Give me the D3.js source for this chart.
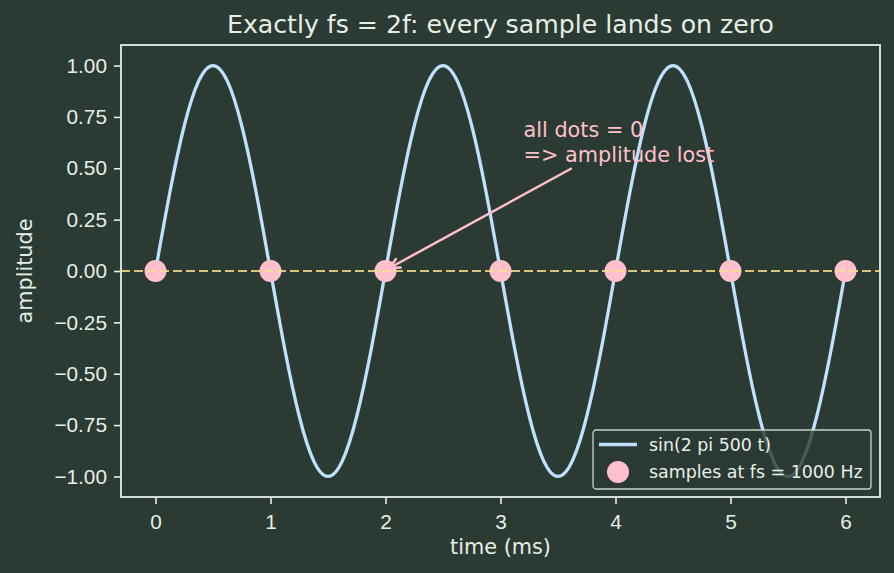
<!DOCTYPE html>
<html>
<head>
<meta charset="utf-8">
<script src="https://cdn.jsdelivr.net/npm/d3@7"></script>
<style>
  html, body { margin: 0; padding: 0; background: #2b3a33; }
  svg { display: block; font-family: "DejaVu Sans", sans-serif; }
</style>
</head>
<body>
<svg id="chart" width="894" height="573"></svg>
<script>
// time in ms, one point every 1/8 ms
var timeMs = [0, 0.125, 0.25, 0.375, 0.5, 0.625, 0.75, 0.875,
              1, 1.125, 1.25, 1.375, 1.5, 1.625, 1.75, 1.875,
              2, 2.125, 2.25, 2.375, 2.5, 2.625, 2.75, 2.875,
              3, 3.125, 3.25, 3.375, 3.5, 3.625, 3.75, 3.875,
              4, 4.125, 4.25, 4.375, 4.5, 4.625, 4.75, 4.875,
              5, 5.125, 5.25, 5.375, 5.5, 5.625, 5.75, 5.875, 6];
// sine amplitude (period 2 ms)
var sineValues = [0, 0.383, 0.707, 0.924, 1, 0.924, 0.707, 0.383,
                  0, -0.383, -0.707, -0.924, -1, -0.924, -0.707, -0.383,
                  0, 0.383, 0.707, 0.924, 1, 0.924, 0.707, 0.383,
                  0, -0.383, -0.707, -0.924, -1, -0.924, -0.707, -0.383,
                  0, 0.383, 0.707, 0.924, 1, 0.924, 0.707, 0.383,
                  0, -0.383, -0.707, -0.924, -1, -0.924, -0.707, -0.383, 0];
// samples at fs = 1000 Hz
var sampleTimes = [0, 1, 2, 3, 4, 5, 6];
var sampleValues = [0, 0, 0, 0, 0, 0, 0];
var xTicks = [0, 1, 2, 3, 4, 5, 6];
var yTicks = [-1, -0.75, -0.5, -0.25, 0, 0.25, 0.5, 0.75, 1];

var bg = "#2b3a33", fg = "#e6efe6";

var svg = d3.select("#chart"),
    margin = {top: 45, right: 14, bottom: 76, left: 121},
    width = svg.attr("width") - margin.left - margin.right,
    height = svg.attr("height") - margin.top - margin.bottom;

svg.append("rect").attr("width", 894).attr("height", 573).attr("fill", bg);

var x = d3.scaleLinear().domain([-0.3, 6.3]).range([0, width]),
    y = d3.scaleLinear().domain([-1.1, 1.1]).range([height, 0]);

var g = svg.append("g").attr("transform", "translate(" + margin.left + "," + margin.top + ")");

// axes
var xAxis = g.append("g")
    .attr("transform", "translate(0," + height + ")")
    .call(d3.axisBottom(x).tickValues(xTicks).tickFormat(d3.format("d")).tickSize(7).tickPadding(6));
var yAxis = g.append("g")
    .call(d3.axisLeft(y).tickValues(yTicks).tickFormat(function(d) {
        return d3.format(".2f")(d).replace("-", "\u2212"); }).tickSize(7).tickPadding(7));
[xAxis, yAxis].forEach(function(a) {
  a.select(".domain").remove();
  a.selectAll("line").attr("stroke", fg).attr("stroke-width", 1.6);
  a.selectAll("text").attr("fill", fg).style("font-size", "20.8px");
});
xAxis.selectAll("text").attr("dy", "0.92em");

// sine curve
var line = d3.line()
    .x(function(d, i) { return x(timeMs[i]); })
    .y(function(d) { return y(d); })
    .curve(d3.curveNatural);

g.append("path")
    .datum(sineValues)
    .attr("d", line)
    .attr("fill", "none")
    .attr("stroke", "#bfe1ff")
    .attr("stroke-width", 3.3);

// sample dots
g.selectAll(".sample")
    .data(sampleTimes)
   .enter().append("circle")
    .attr("class", "sample")
    .attr("cx", function(d) { return x(d); })
    .attr("cy", function(d, i) { return y(sampleValues[i]); })
    .attr("r", 11)
    .attr("fill", "#ffc0cb");

// zero line
g.append("line")
    .attr("x1", 0).attr("x2", width)
    .attr("y1", y(0)).attr("y2", y(0))
    .attr("stroke", "#f7e08f")
    .attr("stroke-opacity", 0.85)
    .attr("stroke-width", 2.2)
    .attr("stroke-dasharray", "9,4");

// annotation
var ann = g.append("g").attr("fill", "#ffc0cb").style("font-size", "20.8px");
ann.append("text").attr("x", x(3.2)).attr("y", y(0.65)).text("all dots = 0");
ann.append("text").attr("x", x(3.2)).attr("y", y(0.65) + 24.5).text("=> amplitude lost");

var ax0 = x(3.62), ay0 = y(0.5), ax1 = x(2) + 4, ay1 = y(0) - 3;
g.append("line")
    .attr("x1", ax0).attr("y1", ay0).attr("x2", ax1).attr("y2", ay1)
    .attr("stroke", "#ffc0cb").attr("stroke-width", 2.5);
var ang = Math.atan2(ay0 - ay1, ax0 - ax1);
[-0.45, 0.45].forEach(function(da) {
  g.append("line")
    .attr("x1", ax1).attr("y1", ay1)
    .attr("x2", ax1 + 11 * Math.cos(ang + da)).attr("y2", ay1 + 11 * Math.sin(ang + da))
    .attr("stroke", "#ffc0cb").attr("stroke-width", 2.5).attr("stroke-linecap", "round");
});

// frame
g.append("rect")
    .attr("width", width).attr("height", height)
    .attr("fill", "none").attr("stroke", fg).attr("stroke-width", 1.8);

// legend
var lg = svg.append("g").attr("transform", "translate(593,430)");
lg.append("rect")
    .attr("width", 278).attr("height", 59).attr("rx", 3)
    .attr("fill", bg).attr("fill-opacity", 0.8)
    .attr("stroke", "#c8d2c8").attr("stroke-width", 1.3);
lg.append("line").attr("x1", 6).attr("x2", 44).attr("y1", 14.5).attr("y2", 14.5)
    .attr("stroke", "#bfe1ff").attr("stroke-width", 3.3);
lg.append("circle").attr("cx", 25).attr("cy", 42).attr("r", 11).attr("fill", "#ffc0cb");
lg.append("text").attr("x", 56).attr("y", 20.5).attr("fill", fg).style("font-size", "17.4px")
    .text("sin(2 pi 500 t)");
lg.append("text").attr("x", 56).attr("y", 48).attr("fill", fg).style("font-size", "17.4px")
    .text("samples at fs = 1000 Hz");

// titles
svg.append("text")
    .attr("x", margin.left + width / 2).attr("y", 33)
    .attr("text-anchor", "middle").attr("fill", fg)
    .style("font-size", "25.2px")
    .text("Exactly fs = 2f: every sample lands on zero");
svg.append("text")
    .attr("x", margin.left + width / 2).attr("y", 554)
    .attr("text-anchor", "middle").attr("fill", fg)
    .style("font-size", "20.8px")
    .text("time (ms)");
svg.append("text")
    .attr("transform", "translate(32," + (margin.top + height / 2) + ") rotate(-90)")
    .attr("text-anchor", "middle").attr("fill", fg)
    .style("font-size", "20.8px")
    .text("amplitude");
</script>
</body>
</html>
